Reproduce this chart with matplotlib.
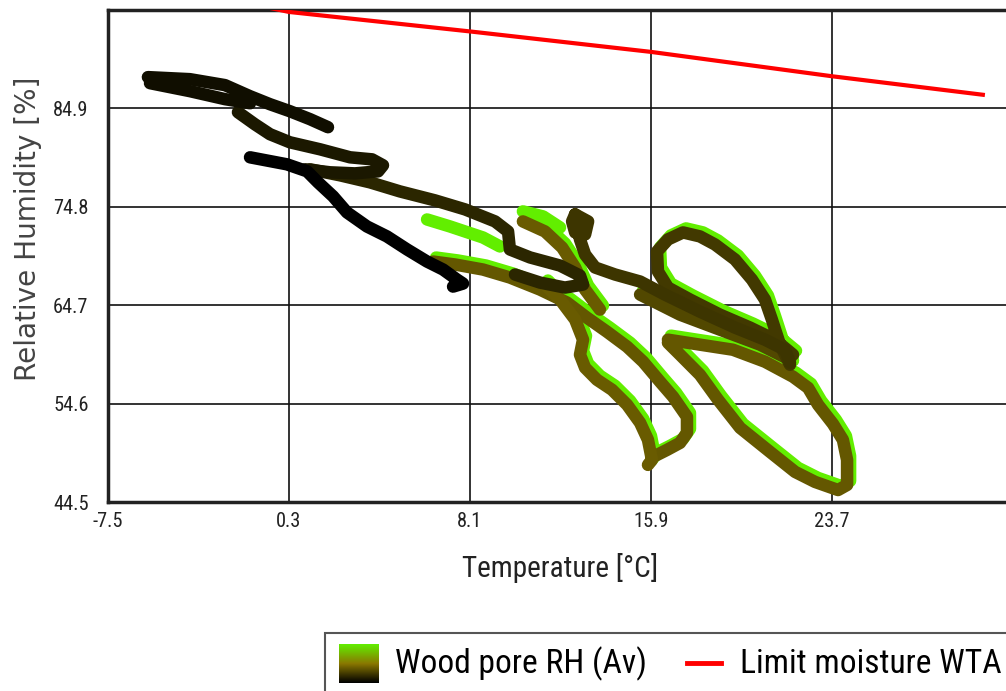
from matplotlib import pyplot as plt
from matplotlib import font_manager
from matplotlib.colors import LinearSegmentedColormap
from matplotlib.font_manager import FontProperties
from matplotlib.lines import Line2D
from matplotlib.patches import Rectangle
from matplotlib.textpath import TextPath
import matplotlib.transforms as mtransforms
import numpy as np

# ---------------------------------------------------------------
# data: temperature [°C] / relative humidity [%]
# each piece of the wood pore RH trace has a shade (0 = dark, 1 = green)
# ---------------------------------------------------------------
p1_temp = [-1.38, 0.21, 1.08, 1.55, 2.20, 2.80, 3.66, 4.52, 5.39, 6.25, 6.94, 7.54, 7.80, 7.37]
p1_rh = [79.88, 79.16, 78.44, 77.31, 75.87, 74.22, 72.78, 71.76, 70.42, 69.18, 68.36, 67.33, 66.92, 66.61]

p2_temp = [-5.78, -3.97, -2.46, -1.38, -0.52, 0.34, 1.21, 1.98]
p2_rh = [88.11, 87.90, 87.29, 86.15, 85.33, 84.61, 83.79, 82.97]

p2b_temp = [-5.69, -3.97, -2.46, -1.38]
p2b_rh = [87.49, 86.67, 85.85, 85.43]

p3_temp = [-1.90, -1.17, -0.52, 0.34, 1.64, 2.93, 3.88, 4.35, 4.14, 3.14, 2.07, 0.99]
p3_rh = [84.51, 83.27, 82.25, 81.42, 80.70, 79.88, 79.67, 79.06, 78.44, 78.23, 78.34, 78.65]

p4_temp = [1.21, 2.50, 3.79, 5.08, 6.59, 7.89, 9.18, 9.74, 9.82, 10.69, 11.98, 12.84, 12.97, 12.19, 11.12, 10.04]
p4_rh = [78.65, 78.03, 77.31, 76.38, 75.46, 74.53, 73.30, 72.27, 70.42, 69.60, 68.77, 67.74, 66.82, 66.51, 67.02, 67.85]

p5_temp = [12.63, 13.19, 13.06, 12.63, 12.50, 12.63, 12.84, 13.06, 13.49, 14.35, 15.43, 16.50, 18.01, 19.52, 20.81, 21.67, 21.89]
p5_rh = [74.02, 73.30, 71.96, 72.17, 73.30, 74.02, 71.45, 69.90, 68.57, 67.85, 67.13, 65.79, 64.04, 62.40, 61.16, 60.13, 58.80]

p6_temp = [21.89, 21.46, 21.11, 20.81, 20.25, 19.52, 18.66, 18.01, 17.28, 16.63, 16.16, 16.20, 16.63, 17.58, 18.87, 20.17, 21.24, 22.02]
p6_rh = [58.59, 60.65, 63.22, 65.28, 67.33, 69.39, 70.93, 71.76, 72.17, 71.45, 70.21, 68.16, 66.51, 65.28, 63.73, 62.40, 61.16, 59.62]

p7_temp = [6.51, 7.45, 8.66, 9.82, 11.12, 12.28, 13.14, 14.00, 14.87, 15.56, 16.29, 16.85, 17.45, 17.45, 17.15, 16.59, 15.99]
p7_rh = [69.18, 68.88, 68.36, 67.54, 66.30, 64.97, 63.42, 61.98, 60.44, 58.90, 56.84, 55.30, 53.24, 51.60, 50.57, 49.85, 49.13]

p8_temp = [11.33, 11.98, 12.63, 12.97, 12.84, 13.06, 13.57, 14.22, 14.87, 15.43, 15.77, 15.94, 15.77]
p8_rh = [66.82, 65.28, 63.22, 61.16, 59.62, 58.28, 57.05, 56.02, 54.48, 52.63, 50.88, 48.82, 48.31]

p9_temp = [16.63, 18.01, 19.43, 20.81, 22.02, 22.67, 23.10, 23.74, 24.17, 24.35, 24.35, 23.96,
           22.97, 22.11, 21.03, 19.74, 18.79, 18.01, 17.15, 16.63]
p9_rh = [61.16, 60.65, 60.13, 58.90, 57.36, 56.22, 54.48, 52.52, 50.88, 48.82, 46.25, 45.73,
         46.56, 47.59, 49.64, 52.11, 54.99, 57.56, 59.62, 60.85]

p10_temp = [6.25, 7.24, 8.66, 9.39]
p10_rh = [73.50, 72.78, 71.65, 70.73]

p11_temp = [10.38, 11.25, 11.98]
p11_rh = [74.33, 73.81, 72.68]

p12_temp = [10.38, 11.33, 12.07, 12.63, 13.06, 13.70]
p12_rh = [73.30, 72.27, 70.62, 68.57, 66.30, 64.25]

p13_temp = [15.43, 17.15, 18.87, 20.60, 21.89]
p13_rh = [65.79, 63.73, 62.19, 60.65, 59.10]

# (temp, rh, shade, green rim)
pieces = [
    (p10_temp, p10_rh, 1.0, False),
    (p11_temp, p11_rh, 1.0, False),
    (p7_temp, p7_rh, 0.36, True),
    (p8_temp, p8_rh, 0.38, True),
    (p12_temp, p12_rh, 0.38, True),
    (p9_temp, p9_rh, 0.36, True),
    (p13_temp, p13_rh, 0.30, True),
    (p6_temp, p6_rh, 0.24, True),
    (p5_temp, p5_rh, 0.22, False),
    (p4_temp, p4_rh, 0.16, False),
    (p3_temp, p3_rh, 0.10, False),
    (p2_temp, p2_rh, 0.06, False),
    (p2b_temp, p2b_rh, 0.06, False),
    (p1_temp, p1_rh, 0.0, False),
]

# limit moisture WTA line
limit_temp = [-0.5, 0.3, 8.1, 15.9, 23.7, 30.2]
limit_rh = [95.2, 94.8, 92.8, 90.7, 88.2, 86.3]

x_ticks = [-7.5, 0.3, 8.1, 15.9, 23.7, 31.5]
y_ticks = [44.5, 54.6, 64.7, 74.8, 84.9, 95.0]

# narrow font like the original (Arial Narrow look)
names = {f.name for f in font_manager.fontManager.ttflist}
narrow = "Liberation Sans"
for cand in ["Liberation Sans Narrow", "Arimo Narrow", "Roboto Condensed", "Archivo Narrow",
             "PT Sans Narrow", "Barlow Semi Condensed"]:
    if cand in names:
        narrow = cand
        break


def fit_size(text, family, width_px):
    # font size (pt) that gives the text the wanted width in pixels at dpi 100
    w = TextPath((0, 0), text, size=10, prop=FontProperties(family=family)).get_extents().width
    return 10 * width_px / (w * 100 / 72)


tick_fs = fit_size("84.9", narrow, 33)
xlab_fs = fit_size("Temperature [°C]", narrow, 193)
ylab_fs = fit_size("Relative Humidity [%]", "DejaVu Sans", 300)
leg_fs = min(fit_size("Wood pore RH (Av)", narrow, 272),
             fit_size("Limit moisture WTA", narrow, 258))

cmap = LinearSegmentedColormap.from_list("rh", ["#000000", "#8a7800", "#62ee00"])

W, H = 1006, 691
fig = plt.figure(figsize=(W / 100, H / 100), dpi=100)
ax = fig.add_axes([108 / W, (H - 502) / H, 905 / W, 492 / H])

ax.set_xlim(-7.5, 31.5)
ax.set_ylim(44.5, 95.0)
ax.set_xticks(x_ticks)
ax.set_yticks(y_ticks)
ax.set_xticklabels([str(t) for t in x_ticks[:-1]] + [""])
ax.set_yticklabels([str(t) for t in y_ticks[:-1]] + [""])
ax.tick_params(length=0, labelsize=tick_fs, colors="#222222")
ax.tick_params(axis="y", pad=14)
ax.tick_params(axis="x", pad=7)
for lab in ax.get_xticklabels() + ax.get_yticklabels():
    lab.set_family(narrow)
ax.grid(True, color="#111111", linewidth=1.2)
ax.set_axisbelow(True)
for s in ax.spines.values():
    s.set_linewidth(2.5)
    s.set_color("#222222")

# green rim under the olive parts, shifted a bit up/right
rim = mtransforms.offset_copy(ax.transData, fig=fig, x=3, y=4, units="dots")
for t, rh, shade, has_rim in pieces:
    if has_rim:
        ax.plot(t, rh, color=cmap(1.0), lw=9, solid_capstyle="round",
                solid_joinstyle="round", transform=rim, zorder=2)
for t, rh, shade, has_rim in pieces:
    ax.plot(t, rh, color=cmap(shade), lw=9, solid_capstyle="round",
            solid_joinstyle="round", zorder=3)

ax.plot(limit_temp, limit_rh, color="#ff0000", lw=3, zorder=4)

ax.set_xlabel("Temperature [°C]", family=narrow, fontsize=xlab_fs, color="#222222", labelpad=16)
ax.set_ylabel("Relative Humidity [%]", family="DejaVu Sans", fontsize=ylab_fs, color="#444444")
ax.yaxis.set_label_coords(-0.073, 0.555)

# legend box at the bottom (partly cut off like the original)
fig.patches.append(Rectangle((325 / W, -0.05), 0.8, (H - 633) / H + 0.05,
                             transform=fig.transFigure, fill=False,
                             edgecolor="#555555", lw=1.5))
gax = fig.add_axes([339 / W, (H - 683) / H, 40 / W, 39 / H])
gax.imshow(np.linspace(1, 0, 64)[:, None], cmap=cmap, aspect="auto")
gax.axis("off")
fig.text(395 / W, (H - 664) / H, "Wood pore RH (Av)", family=narrow, fontsize=leg_fs, va="center")
fig.add_artist(Line2D([687 / W, 721 / W], [(H - 663) / H] * 2, color="#ff0000", lw=3.5,
                      transform=fig.transFigure))
fig.text(740 / W, (H - 664) / H, "Limit moisture WTA", family=narrow, fontsize=leg_fs, va="center")

plt.savefig("out.png", dpi=100)
